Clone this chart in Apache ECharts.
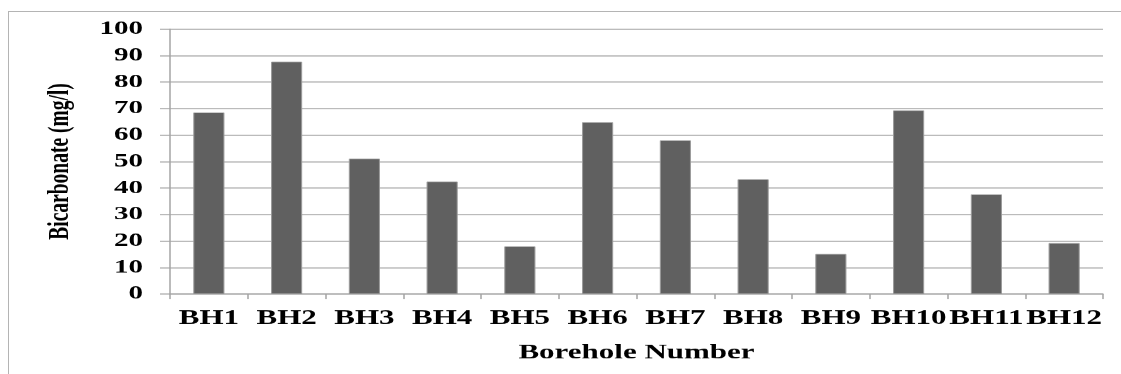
<!DOCTYPE html>
<html>
<head>
<meta charset="utf-8">
<title>Bicarbonate by borehole</title>
<script src="https://cdn.jsdelivr.net/npm/echarts@6/dist/echarts.min.js"></script>
<style>
  html, body { margin: 0; padding: 0; background: #fff; overflow: hidden; }
  body { width: 1121px; height: 374px; position: relative; }
  /* frame edges along the top and left */
  #frame {
    position: absolute; left: 8px; top: 11px; right: -10px; bottom: -10px;
    border-top: 1.5px solid #b4b4b4; border-left: 1.5px solid #b4b4b4;
  }
  /* the chart is laid out on a taller canvas and squeezed vertically,
     which gives the flattened lettering of the printed figure */
  #chart {
    position: absolute; left: 0; top: 0;
    width: 1121px; height: 575px;
    transform: scaleY(0.6504); transform-origin: 0 0;
  }
</style>
</head>
<body>
<div id="frame"></div>
<div id="chart"></div>
<script>
// Borehole labels
const categories = ['BH1', 'BH2', 'BH3', 'BH4', 'BH5', 'BH6', 'BH7', 'BH8', 'BH9', 'BH10', 'BH11', 'BH12'];
// Bicarbonate concentration, mg/l
const bicarbonate = [68.5, 87.7, 51.1, 42.4, 18.0, 64.8, 58.0, 43.3, 15.1, 69.3, 37.6, 19.2];
// Value axis range and step
const yMin = 0;
const yMax = 100;
const yStep = 10;

const serif = '"Liberation Serif", "Times New Roman", serif';
const gridGray = '#a4a4a4';

const chart = echarts.init(document.getElementById('chart'));
chart.setOption({
  animation: false,
  backgroundColor: 'transparent',
  grid: { left: 170, right: 18, top: 44.6, bottom: 123, containLabel: false },
  xAxis: {
    type: 'category',
    data: categories,
    name: 'Borehole Number',
    nameLocation: 'middle',
    nameGap: 75,
    nameTextStyle: { fontFamily: serif, fontWeight: 'bold', fontSize: 31, color: '#000' },
    axisLine: { show: true, lineStyle: { color: gridGray, width: 1.5 } },
    axisTick: { show: true, alignWithLabel: false, length: 8, lineStyle: { color: gridGray, width: 1.5 } },
    axisLabel: {
      interval: 0, margin: 22,
      fontFamily: serif, fontWeight: 'bold', fontSize: 31, color: '#000'
    },
    splitLine: { show: false }
  },
  yAxis: {
    type: 'value',
    min: yMin, max: yMax, interval: yStep,
    name: 'Bicarbonate (mg/l)',
    nameLocation: 'middle',
    nameGap: 95,
    nameTextStyle: { fontFamily: serif, fontWeight: 'bold', fontSize: 30, color: '#000' },
    axisLine: { show: true, lineStyle: { color: gridGray, width: 1.5 } },
    axisTick: { show: true, inside: false, length: 10, lineStyle: { color: gridGray, width: 1.5 } },
    axisLabel: {
      margin: 27,
      fontFamily: serif, fontWeight: 'bold', fontSize: 29, color: '#000'
    },
    splitLine: { show: true, lineStyle: { color: gridGray, width: 1.5 } }
  },
  series: [{
    type: 'bar',
    data: bicarbonate,
    barCategoryGap: '60%',
    itemStyle: { color: '#606060', borderColor: '#9a9a9a', borderWidth: 1 }
  }]
});
</script>
</body>
</html>
